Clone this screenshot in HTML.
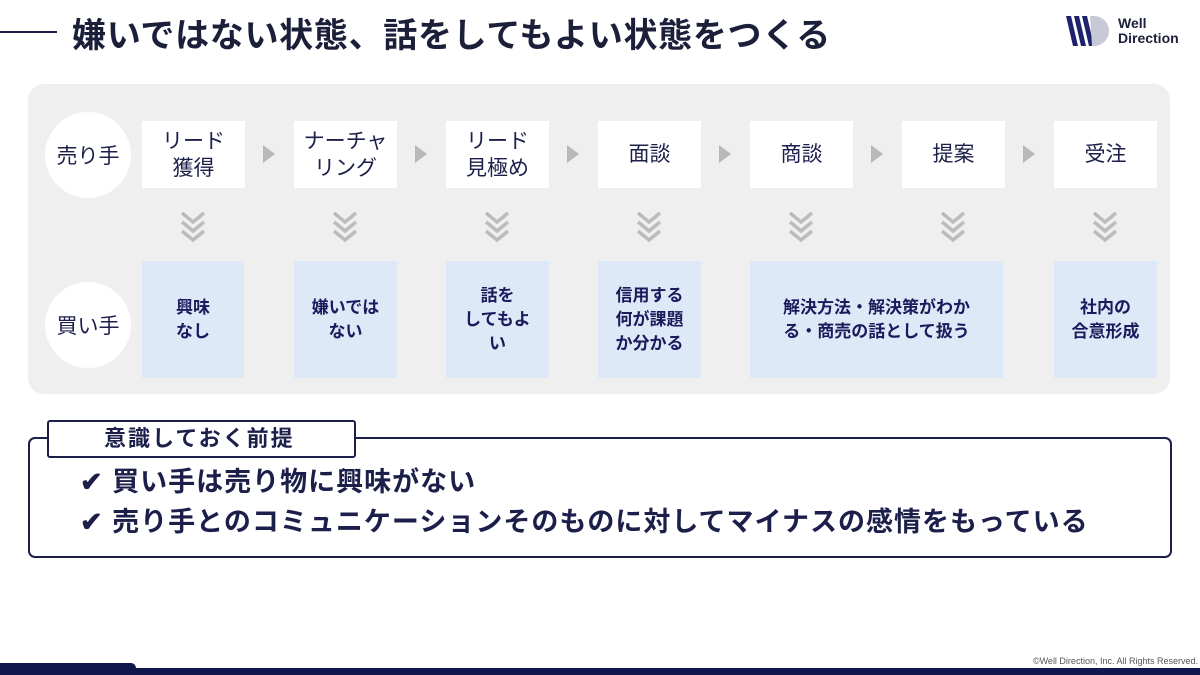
<!DOCTYPE html>
<html><head><meta charset="utf-8"><style>
*{margin:0;padding:0;box-sizing:border-box}
body{width:1200px;height:675px;position:relative;background:#fff;overflow:hidden;font-family:"Liberation Sans","Noto Sans CJK JP",sans-serif;color:#1c1f4a}
.abs{position:absolute}
.panel{left:28px;top:84px;width:1142px;height:310px;background:#efefef;border-radius:16px}
.circ{width:86px;height:86px;border-radius:50%;background:#fff;display:flex;align-items:center;justify-content:center;font-size:21px;left:45px}
.tb{top:121px;width:103px;height:67px;background:#fff;display:flex;align-items:center;justify-content:center;text-align:center;font-size:21px;line-height:27px;color:#1c1f4a}
.bb{top:261px;height:117px;background:#dde9f6;display:flex;align-items:center;justify-content:center;text-align:center;font-size:17px;font-weight:bold;line-height:24px;color:#1a1a5c}
.arr{top:145px;width:0;height:0;border-top:9px solid transparent;border-bottom:9px solid transparent;border-left:12px solid #b8b8b8}
</style></head><body>
<div class="abs" style="left:0;top:31px;width:57px;height:2px;background:#1c1f4a"></div>
<div class="abs" style="left:72px;top:8px;font-size:34px;letter-spacing:0.7px;font-weight:bold;color:#1c1f3a;white-space:nowrap">嫌いではない状態、話をしてもよい状態をつくる</div>
<svg class="abs" style="left:1066px;top:14px" width="50" height="34"><polygon points="0,2 5,2 12,32 7,32" fill="#1e2270"/><polygon points="8,2 13,2 20,32 15,32" fill="#1e2270"/><polygon points="16,2 21,2 28,32 23,32" fill="#1e2270"/><path d="M24,2 h4 a15,15 0 0 1 0,30 h-2 z" fill="#c8c9d6"/></svg>
<div class="abs" style="left:1118px;top:16px;font-size:14px;font-weight:bold;line-height:15px;color:#1c1f3a">Well<br>Direction</div>
<div class="abs panel"></div>
<div class="abs circ" style="top:112px">売り手</div>
<div class="abs circ" style="top:282px">買い手</div>
<div class="abs tb" style="left:142px">リード<br>獲得</div>
<div class="abs tb" style="left:294px">ナーチャ<br>リング</div>
<div class="abs tb" style="left:446px">リード<br>見極め</div>
<div class="abs tb" style="left:598px">面談</div>
<div class="abs tb" style="left:750px">商談</div>
<div class="abs tb" style="left:902px">提案</div>
<div class="abs tb" style="left:1054px">受注</div>
<div class="abs arr" style="left:263px"></div>
<div class="abs arr" style="left:415px"></div>
<div class="abs arr" style="left:567px"></div>
<div class="abs arr" style="left:719px"></div>
<div class="abs arr" style="left:871px"></div>
<div class="abs arr" style="left:1023px"></div>
<svg class="abs" style="left:0;top:0" width="1200" height="260">
<defs><g id="c" fill="none" stroke="#bcbcbc" stroke-width="3.5"><polyline points="-11,-13 0,-4 11,-13"/><polyline points="-11,-4 0,5 11,-4"/><polyline points="-11,5 0,14 11,5"/></g></defs>
<use href="#c" x="193" y="226"/><use href="#c" x="345" y="226"/><use href="#c" x="497" y="226"/><use href="#c" x="649" y="226"/><use href="#c" x="801" y="226"/><use href="#c" x="953" y="226"/><use href="#c" x="1105" y="226"/>
</svg>
<div class="abs bb" style="left:142px;width:102px">興味<br>なし</div>
<div class="abs bb" style="left:294px;width:103px">嫌いでは<br>ない</div>
<div class="abs bb" style="left:446px;width:103px">話を<br>してもよ<br>い</div>
<div class="abs bb" style="left:598px;width:103px">信用する<br>何が課題<br>か分かる</div>
<div class="abs bb" style="left:750px;width:253px">解決方法・解決策がわか<br>る・商売の話として扱う</div>
<div class="abs bb" style="left:1054px;width:103px">社内の<br>合意形成</div>
<div class="abs" style="left:28px;top:437px;width:1144px;height:121px;border:2px solid #1c1f4a;border-radius:7px"></div>
<div class="abs" style="left:47px;top:420px;width:309px;height:38px;border:2px solid #1c1f4a;border-radius:3px;background:#fff;font-size:22px;letter-spacing:2px;font-weight:bold;padding-left:55px;line-height:34px">意識しておく前提</div>
<div class="abs" style="left:80px;top:462px;font-size:27px;letter-spacing:1px;font-weight:bold;line-height:40px;white-space:nowrap">✔ 買い手は売り物に興味がない<br>✔ 売り手とのコミュニケーションそのものに対してマイナスの感情をもっている</div>
<div class="abs" style="left:0;top:668px;width:1200px;height:7px;background:#12164f"></div>
<div class="abs" style="left:0;top:663px;width:136px;height:12px;background:#12164f;border-top-right-radius:5px"></div>
<div class="abs" style="right:2px;top:656px;font-size:9px;color:#555">©Well Direction, Inc. All Rights Reserved.</div>
</body></html>
